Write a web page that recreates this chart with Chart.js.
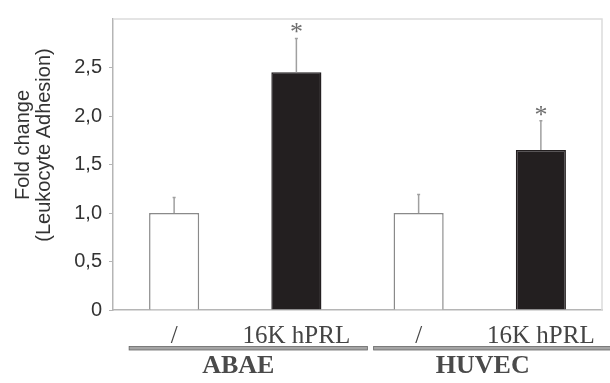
<!DOCTYPE html>
<html>
<head>
<meta charset="utf-8">
<script src="https://cdn.jsdelivr.net/npm/chart.js@4.4.0/dist/chart.umd.min.js"></script>
<style>
  html, body { margin: 0; padding: 0; background: #fff; }
  #wrap { width: 610px; height: 383px; }
</style>
</head>
<body>
<div id="wrap"><canvas id="adhesionChart" width="610" height="383"></canvas></div>
<script>
// Datos
const categories = ['/', '16K hPRL', '/', '16K hPRL'];
const groups = ['ABAE', 'HUVEC'];
const groupOf = [0, 0, 1, 1];
const foldChange = [1.0, 2.45, 1.0, 1.65];
const errorUp = [0.16, 0.35, 0.19, 0.30];
const significant = [false, true, false, true];
const yTicks = [0, 0.5, 1.0, 1.5, 2.0, 2.5];

const barFill = ['#ffffff', '#231f20', '#ffffff', '#231f20'];
const barEdge = ['#8a8a8a', '#231f20', '#8a8a8a', '#231f20'];

// Barras de error, asteriscos, marco y etiquetas de grupo
const extras = {
    id: 'extras',
    afterDatasetsDraw(chart) {
        const ctx = chart.ctx;
        const x = chart.scales.x, y = chart.scales.y;
        const area = chart.chartArea;
        ctx.save();

        // marco superior y derecho
        ctx.strokeStyle = '#dcdcdc';
        ctx.lineWidth = 1.5;
        ctx.beginPath();
        ctx.moveTo(area.left, area.top);
        ctx.lineTo(area.right, area.top);
        ctx.lineTo(area.right, area.bottom);
        ctx.stroke();

        foldChange.forEach((v, i) => {
            const cx = x.getPixelForValue(i);
            const y0 = y.getPixelForValue(v);
            const y1 = y.getPixelForValue(v + errorUp[i]);
            ctx.strokeStyle = '#a0a0a0';
            ctx.lineWidth = 1.5;
            ctx.beginPath();
            ctx.moveTo(cx, y0);
            ctx.lineTo(cx, y1);
            ctx.moveTo(cx - 1.5, y1);
            ctx.lineTo(cx + 1.5, y1);
            ctx.stroke();
            if (significant[i]) {
                ctx.fillStyle = '#6e6e6e';
                ctx.font = '26px "Liberation Serif"';
                ctx.textAlign = 'center';
                ctx.textBaseline = 'alphabetic';
                ctx.fillText('*', cx, y1 + 2);
            }
        });

        // líneas y nombres de grupo
        groups.forEach((g, gi) => {
            const idx = groupOf.map((v, i) => v === gi ? i : -1).filter(i => i >= 0);
            const left = x.getPixelForValue(idx[0]) - 45;
            const right = x.getPixelForValue(idx[idx.length - 1]) + 71;
            const ly = 348;
            ctx.fillStyle = '#a5a5a5';
            ctx.fillRect(left, ly - 1.5, right - left, 3.5);
            ctx.strokeStyle = '#666';
            ctx.lineWidth = 0.8;
            ctx.strokeRect(left, ly - 1.5, right - left, 3.5);
            ctx.fillStyle = '#4a4a4a';
            ctx.font = 'bold 26px "Liberation Serif"';
            ctx.textAlign = 'center';
            ctx.textBaseline = 'alphabetic';
            ctx.fillText(g, (left + right) / 2 - 10, 373);
        });

        // título del eje Y
        ctx.fillStyle = '#333';
        ctx.font = '20px "Liberation Sans"';
        ctx.textAlign = 'center';
        ctx.textBaseline = 'middle';
        ctx.translate(34, 145);
        ctx.rotate(-Math.PI / 2);
        ctx.fillText('Fold change', 0, -11);
        ctx.fillText('(Leukocyte Adhesion)', 0, 10);
        ctx.restore();
    }
};

const config = {
    type: 'bar',
    data: {
        labels: categories,
        datasets: [{
            label: 'Fold change',
            data: foldChange,
            backgroundColor: barFill,
            borderColor: barEdge,
            borderWidth: 1.5,
            barPercentage: 0.41,
            categoryPercentage: 1.0
        }]
    },
    options: {
        responsive: false,
        animation: false,
        layout: { padding: { left: 0, right: 8, top: 13, bottom: 0 } },
        plugins: {
            legend: { display: false },
            tooltip: { enabled: false }
        },
        scales: {
            x: {
                grid: { display: false },
                border: { color: '#b5b5b5', width: 1.5 },
                ticks: {
                    color: '#444',
                    padding: 3,
                    font: { family: '"Liberation Serif"', size: 25 }
                },
                afterFit(axis) { axis.height = 73; }
            },
            y: {
                min: 0,
                max: 3,
                border: { color: '#b5b5b5', width: 1.5 },
                grid: {
                    display: true,
                    drawOnChartArea: false,
                    drawTicks: true,
                    tickLength: 4,
                    color: '#b5b5b5'
                },
                afterBuildTicks(axis) {
                    axis.ticks = yTicks.map(v => ({ value: v }));
                },
                ticks: {
                    color: '#333',
                    padding: 7,
                    font: { family: '"Liberation Sans"', size: 20 },
                    callback: v => v === 0 ? '0' : v.toFixed(1).replace('.', ',')
                },
                afterFit(axis) { axis.width = 113; }
            }
        }
    },
    plugins: [extras]
};

const ctx = document.getElementById('adhesionChart').getContext('2d');
new Chart(ctx, config);
</script>
</body>
</html>
